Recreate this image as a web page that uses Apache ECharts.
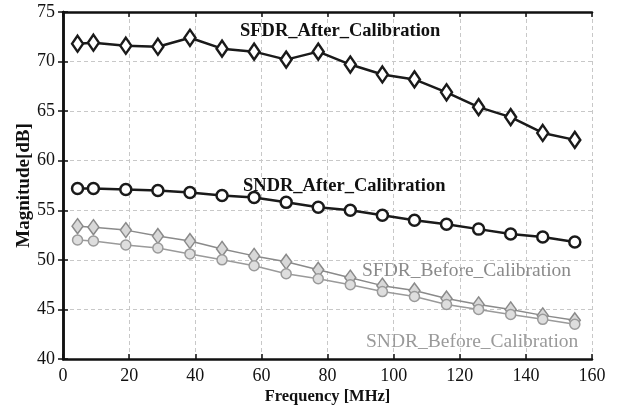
<!DOCTYPE html>
<html>
<head>
<meta charset="utf-8">
<script src="https://cdn.jsdelivr.net/npm/echarts@6/dist/echarts.min.js"></script>
<style>html,body{margin:0;padding:0;background:#fff}#c{width:620px;height:410px}</style>
</head>
<body>
<div id="c"></div>
<script>
var freq = [4.4, 9.2, 19.0, 28.7, 38.4, 48.1, 57.8, 67.5, 77.2, 86.9, 96.6, 106.3, 116.0, 125.7, 135.4, 145.1, 154.8];
var sfdrAfter = [71.8, 71.9, 71.6, 71.5, 72.4, 71.3, 71.0, 70.2, 71.0, 69.7, 68.7, 68.2, 66.9, 65.4, 64.4, 62.8, 62.1];
var sndrAfter = [57.2, 57.2, 57.1, 57.0, 56.8, 56.5, 56.3, 55.8, 55.3, 55.0, 54.5, 54.0, 53.6, 53.1, 52.6, 52.3, 51.8];
var sfdrBefore = [53.4, 53.3, 53.0, 52.4, 51.9, 51.1, 50.4, 49.8, 49.0, 48.2, 47.4, 46.9, 46.1, 45.5, 45.0, 44.4, 43.9];
var sndrBefore = [52.0, 51.9, 51.5, 51.2, 50.6, 50.0, 49.4, 48.6, 48.1, 47.5, 46.8, 46.3, 45.5, 45.0, 44.5, 44.0, 43.5];
var labels = ['SFDR_After_Calibration', 'SNDR_After_Calibration', 'SFDR_Before_Calibration', 'SNDR_Before_Calibration'];

function pairs(ys){ return freq.map(function(f,i){ return [f, ys[i]]; }); }
var serif = '"Liberation Serif", "Times New Roman", serif';
var chart = echarts.init(document.getElementById('c'), null, {renderer:'canvas'});
var axisLine = {show:true, lineStyle:{color:'#111', width:2.5}};
var tick = {show:true, inside:true, length:5, lineStyle:{color:'#111', width:1.5}};
var grid = {show:true, lineStyle:{color:'#c8c8c8', type:[4,3], width:1}};
function mk(name, data, symbol, size, color, lw, fill, z){
  return {type:'line', name:name, data:pairs(data), symbol:symbol, symbolSize:size,
    lineStyle:{color:color, width:lw}, itemStyle:{color:fill, borderColor:color, borderWidth:lw}, z:z};
}
chart.setOption({
  animation:false,
  backgroundColor:'#fff',
  grid:{left:63, right:28, top:12, bottom:49},
  xAxis:[{type:'value', min:0, max:160, interval:20,
    axisLine:axisLine, axisTick:tick,
    axisLabel:{color:'#111', fontFamily:serif, fontSize:18, margin:8},
    splitLine:grid,
    name:'Frequency [MHz]', nameLocation:'middle', nameGap:29, nameMoveOverlap:false,
    nameTextStyle:{color:'#111', fontFamily:serif, fontSize:16.5, fontWeight:'bold'}},
    {type:'value', position:'top', min:0, max:160, interval:20, axisLine:axisLine, axisTick:tick, axisLabel:{show:false}, splitLine:{show:false}}],
  yAxis:[{type:'value', min:40, max:75, interval:5,
    axisLine:axisLine, axisTick:tick,
    axisLabel:{color:'#111', fontFamily:serif, fontSize:18, margin:8},
    splitLine:grid,
    name:'Magnitude[dB]', nameLocation:'middle', nameGap:29, nameMoveOverlap:false,
    nameTextStyle:{color:'#111', fontFamily:serif, fontSize:19, fontWeight:'bold'}},
    {type:'value', position:'right', min:40, max:75, interval:5, axisLine:axisLine, axisTick:tick, axisLabel:{show:false}, splitLine:{show:false}}],
  series:[
    mk(labels[2], sfdrBefore, 'diamond', [11,15], '#8a8a8a', 1.5, '#d8d8d8', 3),
    mk(labels[3], sndrBefore, 'circle', 10, '#9a9a9a', 1.5, '#dedede', 3),
    mk(labels[0], sfdrAfter, 'diamond', [11,16], '#1a1a1a', 2.5, '#fff', 5),
    mk(labels[1], sndrAfter, 'circle', 11, '#1a1a1a', 2.5, '#fff', 5)
  ],
  graphic:[
    {type:'text', left:240, top:22, style:{text:labels[0], fontFamily:serif, fontSize:18.5, fontWeight:'bold', fill:'#111'}},
    {type:'text', left:243, top:177, style:{text:labels[1], fontFamily:serif, fontSize:18.5, fontWeight:'bold', fill:'#111'}},
    {type:'text', left:362, top:261, style:{text:labels[2], fontFamily:serif, fontSize:19.5, fill:'#8a8a8a'}},
    {type:'text', left:366, top:332, style:{text:labels[3], fontFamily:serif, fontSize:19.5, fill:'#9a9a9a'}}
  ]
});
</script>
</body>
</html>
